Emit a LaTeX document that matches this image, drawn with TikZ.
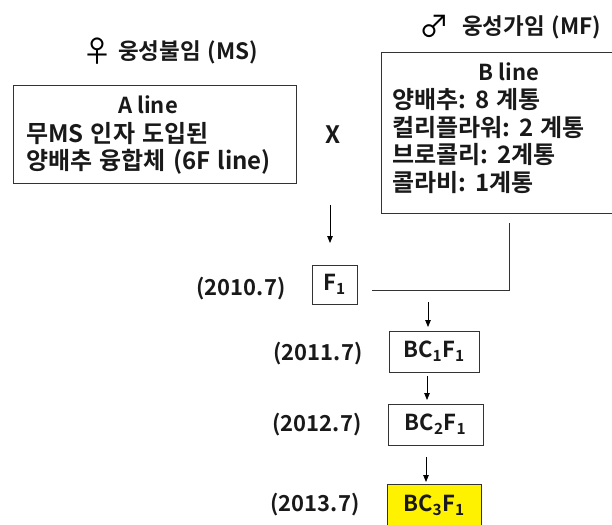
\documentclass[tikz,border=0pt]{standalone}
\usepackage{fontspec}
\setmainfont{Noto Sans CJK KR}[BoldFont={* Bold}]
\usetikzlibrary{arrows.meta}
\newcommand\widespaces{\spaceskip=0.3em plus 0.1em\relax}
\tikzset{
  box/.style={draw=black!80, line width=0.9pt, inner sep=0pt},
  txt/.style={font=\bfseries\fontsize{22}{24}\selectfont, inner sep=0pt, text=black!90},
  ktxt/.style={font=\bfseries\fontsize{24}{26}\selectfont\widespaces, inner sep=0pt, text=black!90},
  htxt/.style={font=\bfseries\fontsize{22.5}{24}\selectfont\widespaces, inner sep=0pt, text=black!90},
  sym/.style={font=\fontsize{30}{32}\selectfont, inner sep=0pt},
  arr/.style={line width=0.8pt, -{Triangle[length=7pt,width=5.5pt]}},
  ln/.style={line width=0.9pt, draw=black!80}
}
\begin{document}
\begin{tikzpicture}[x=1pt,y=-1pt]
\useasboundingbox (0,0) rectangle (612,524);
% headings
\node[sym] (fem) at (97,51) {♀};
\node[htxt, anchor=west] (msl) at (118,52) {웅성불임 (MS)};
\node[sym] (mal) at (434,26) {♂};
\node[htxt, anchor=west] (mfl) at (462,27) {웅성가임 (MF)};
% A box
\node[box, minimum width=283pt, minimum height=98pt] (abox) at (154.5,134) {};
\node[txt] (a0) at (148,105) {A line};
\node[ktxt, anchor=west] (a1) at (26,134) {무MS 인자 도입된};
\node[ktxt, anchor=west] (a2) at (26,162) {양배추 융합체 (6F line)};
\node[txt, font=\bfseries\fontsize{24}{26}\selectfont] (x) at (333,135) {X};
% B box
\node[box, minimum width=259pt, minimum height=161pt] (bbox) at (510.5,132.5) {};
\node[txt] (b0) at (509,72) {B line};
\node[ktxt, anchor=west] (b1) at (392,100) {양배추: 8 계통};
\node[ktxt, anchor=west] (b2) at (392,128) {컬리플라워: 2 계통};
\node[ktxt, anchor=west] (b3) at (392,155) {브로콜리: 2계통};
\node[ktxt, anchor=west] (b4) at (392,183) {콜라비: 1계통};
% generation boxes
\node[box, txt, minimum width=45pt, minimum height=39pt] (f1) at (334.5,284.5) {F\textsubscript{1}};
\node[box, txt, minimum width=90pt, minimum height=41pt] (bc1) at (434,351.5) {BC\textsubscript{1}F\textsubscript{1}};
\node[box, txt, minimum width=95pt, minimum height=41pt] (bc2) at (435.5,424.5) {BC\textsubscript{2}F\textsubscript{1}};
\node[box, fill=yellow, minimum width=94pt, minimum height=52pt] (bc3) at (434,510) {};
\node[txt] (bc3t) at (434,505) {BC\textsubscript{3}F\textsubscript{1}};
% year labels
\node[txt] (y1) at (241,289) {(2010.7)};
\node[txt] (y2) at (318,354) {(2011.7)};
\node[txt] (y3) at (317,425) {(2012.7)};
\node[txt] (y4) at (315,505) {(2013.7)};
% connectors
\coordinate (p1) at (330,205);
\coordinate (p2) at (330,243);
\coordinate (q1) at (509,223);
\coordinate (q2) at (509,290);
\coordinate (q3) at (372,290);
\coordinate (r1) at (428,302);
\coordinate (r2) at (428,327);
\coordinate (s1) at (427,376);
\coordinate (s2) at (427,400);
\coordinate (t1) at (426,457);
\coordinate (t2) at (426,482);
\draw[arr] (p1) -- (p2);
\draw[ln] (q1) -- (q2) -- (q3);
\draw[arr] (r1) -- (r2);
\draw[arr] (s1) -- (s2);
\draw[arr] (t1) -- (t2);
\end{tikzpicture}
\end{document}
